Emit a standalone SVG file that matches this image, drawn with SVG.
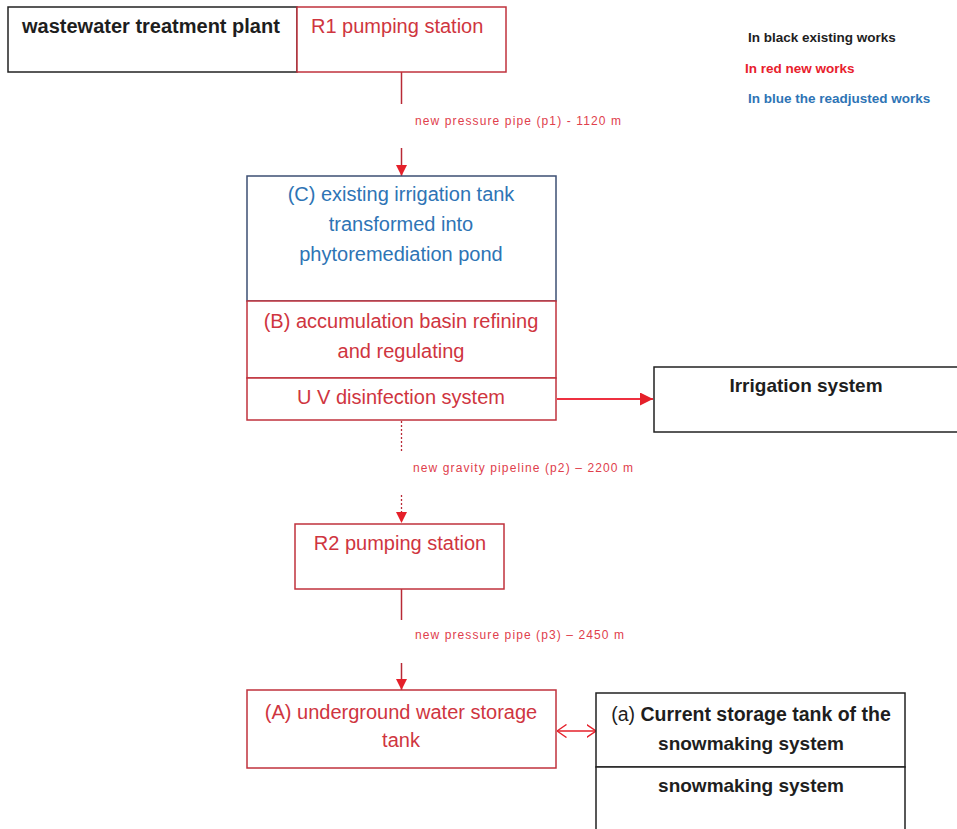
<svg xmlns="http://www.w3.org/2000/svg" width="957" height="829" viewBox="0 0 957 829">
<defs>
<style>
.t{font-family:"Liberation Sans",Arial,sans-serif;font-size:20px;text-anchor:middle}
.b{font-weight:bold}
.red{fill:#cf3540}
.blue{fill:#2e74b5}
.blk{fill:#1e1e1e}
.lbl{font-family:"Liberation Sans",Arial,sans-serif;font-size:12px;fill:#e0404c}
.leg{font-family:"Liberation Sans",Arial,sans-serif;font-size:13.5px;font-weight:bold}
.rb{fill:#fff;stroke:#c0323d;stroke-width:1.5}
.kb{fill:#fff;stroke:#222;stroke-width:1.5}
.cb{fill:#fff;stroke:#3d4f73;stroke-width:1.5}
.pipe{stroke:#b82a36;stroke-width:1.5;fill:none}
.dot{stroke:#b82a36;stroke-width:1.3;stroke-dasharray:2 2;fill:none}
.brt{stroke:#ee3040;stroke-width:2;fill:none}
</style>
<marker id="ah" viewBox="0 0 10 10" refX="10" refY="5" markerWidth="11" markerHeight="11" orient="auto" markerUnits="userSpaceOnUse">
<path d="M0,0 L10,5 L0,10 z" fill="#e5202a"/>
</marker>
<marker id="ahb" viewBox="0 0 10 10" refX="10" refY="5" markerWidth="14" markerHeight="13" orient="auto" markerUnits="userSpaceOnUse">
<path d="M0,0 L10,5 L0,10 z" fill="#e5202a"/>
</marker>
<marker id="ao" viewBox="0 0 10 14" refX="9.5" refY="7" markerWidth="10" markerHeight="14" orient="auto-start-reverse" markerUnits="userSpaceOnUse">
<path d="M0,0.5 L9.5,7 L0,13.5" fill="none" stroke="#e5202a" stroke-width="1.4"/>
</marker>
</defs>
<rect width="957" height="829" fill="#fff"/>

<g id="connectors">
<line class="pipe" x1="401.5" y1="72" x2="401.5" y2="104"/>
<line class="pipe" x1="401.5" y1="148" x2="401.5" y2="176" marker-end="url(#ah)"/>
<line class="brt" x1="557" y1="399" x2="653" y2="399" marker-end="url(#ahb)"/>
<line class="dot" x1="401.5" y1="421" x2="401.5" y2="452"/>
<line class="dot" x1="401.5" y1="495" x2="401.5" y2="523" marker-end="url(#ah)"/>
<line class="pipe" x1="401.5" y1="589" x2="401.5" y2="620"/>
<line class="pipe" x1="401.5" y1="663" x2="401.5" y2="690" marker-end="url(#ah)"/>
<line stroke="#e5202a" stroke-width="1.4" x1="557" y1="731" x2="596" y2="731" marker-start="url(#ao)" marker-end="url(#ao)"/>
<text class="lbl" x="415" y="125" textLength="206" lengthAdjust="spacing">new pressure pipe (p1) - 1120 m</text>
<text class="lbl" x="413" y="472" textLength="220" lengthAdjust="spacing">new gravity pipeline (p2) – 2200 m</text>
<text class="lbl" x="415" y="639" textLength="209" lengthAdjust="spacing">new pressure pipe (p3) – 2450 m</text>
</g>

<g id="wwtp">
<rect class="kb" x="8" y="7" width="289" height="65"/>
<text class="t b blk" x="22" y="33" style="text-anchor:start">wastewater treatment plant</text>
</g>

<g id="r1">
<rect class="rb" x="297" y="7" width="209" height="65"/>
<text class="t red" x="311" y="33" style="text-anchor:start">R1 pumping station</text>
</g>

<g id="legend">
<text class="leg blk" x="748" y="42">In black existing works</text>
<text class="leg" x="745" y="73" fill="#e8202c">In red new works</text>
<text class="leg blue" x="748" y="103">In blue the readjusted works</text>
</g>

<g id="tankC">
<rect class="cb" x="247" y="176" width="309" height="125"/>
<text class="t blue" x="401" y="201">(C) existing irrigation tank</text>
<text class="t blue" x="401" y="231">transformed into</text>
<text class="t blue" x="401" y="261">phytoremediation pond</text>
</g>

<g id="basinB">
<rect class="rb" x="247" y="301" width="309" height="77"/>
<text class="t red" x="401" y="328">(B) accumulation basin refining</text>
<text class="t red" x="401" y="358">and regulating</text>
</g>

<g id="uv">
<rect class="rb" x="247" y="378" width="309" height="42"/>
<text class="t red" x="401" y="404">U V disinfection system</text>
</g>

<g id="irrigation">
<rect class="kb" x="654" y="367" width="310" height="65"/>
<text class="t b blk" x="806" y="392" style="font-size:19px">Irrigation system</text>
</g>

<g id="r2">
<rect class="rb" x="295" y="524" width="209" height="65"/>
<text class="t red" x="400" y="550">R2 pumping station</text>
</g>

<g id="tankA">
<rect class="rb" x="247" y="690" width="309" height="78"/>
<text class="t red" x="401" y="719">(A) underground water storage</text>
<text class="t red" x="401" y="747">tank</text>
</g>

<g id="tanka">
<rect class="kb" x="596" y="693" width="309" height="74"/>
<text class="t blk" x="751" y="721" style="font-size:19.5px">(a) <tspan class="b">Current storage tank of the</tspan></text>
<text class="t b blk" x="751" y="750" style="font-size:19px">snowmaking system</text>
</g>

<g id="snowmaking">
<rect class="kb" x="596" y="767" width="309" height="70"/>
<text class="t b blk" x="751" y="792" style="font-size:19px">snowmaking system</text>
</g>
</svg>
